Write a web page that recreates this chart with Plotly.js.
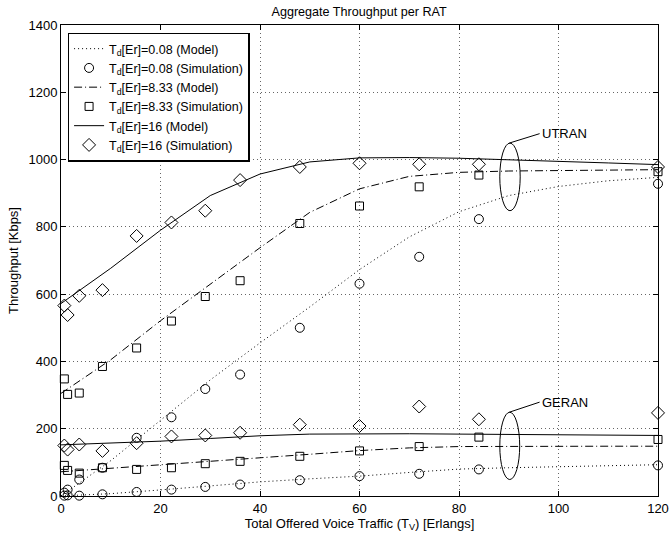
<!DOCTYPE html>
<html>
<head>
<meta charset="utf-8">
<script src="https://cdn.plot.ly/plotly-3.0.1.min.js"></script>
<style>html,body{margin:0;padding:0;background:#fff;}#chart{width:670px;height:538px;}</style>
</head>
<body>
<div id="chart"></div>
<script>
// Offered voice traffic (Erlangs) for simulation points and model curves
const simX = [0.67, 1.33, 3.67, 8.33, 15.2, 22.2, 29, 36, 48, 60, 72, 84, 120];
const modelX = [0, 10, 20, 30, 40, 50, 60, 70, 80, 90, 100, 110, 120];

// UTRAN throughput [Kbps]
const utranModel008 = [0, 105, 225, 345, 455, 562, 673, 770, 845, 893, 920, 937, 947];
const utranModel833 = [305, 405, 521, 630, 738, 843, 913, 950, 962, 966, 968, 969, 970];
const utranModel16  = [572, 677, 790, 893, 957, 993, 1005, 1006, 1004, 1000, 995, 990, 985];
const utranSim008 = [10, 19, 49, 84, 173, 234, 318, 361, 500, 631, 711, 823, 928];
const utranSim833 = [348, 302, 306, 385, 440, 520, 593, 640, 810, 862, 919, 954, 964];
const utranSim16  = [566, 538, 595, 612, 773, 813, 848, 939, 978, 989, 986, 986, 978];

// GERAN throughput [Kbps]
const geranModel008 = [0, 7, 18, 31, 42, 51, 59, 70, 80, 84, 87, 90, 93];
const geranModel833 = [72, 82, 92, 103, 112, 124, 135, 143, 147, 148, 148, 148, 148];
const geranModel16  = [152, 157, 163, 171, 179, 184, 185, 185, 184, 183, 182, 181, 180];
const geranSim008 = [1, 2, 1, 5, 12, 19, 27, 34, 47, 59, 66, 79, 91];
const geranSim833 = [91, 76, 68, 84, 79, 84, 96, 103, 118, 134, 147, 175, 168];
const geranSim16  = [150, 138, 153, 134, 157, 177, 180, 188, 212, 208, 266, 228, 247];

const legendNames = [
  'T<sub>d</sub>[Er]=0.08 (Model)',
  'T<sub>d</sub>[Er]=0.08 (Simulation)',
  'T<sub>d</sub>[Er]=8.33 (Model)',
  'T<sub>d</sub>[Er]=8.33 (Simulation)',
  'T<sub>d</sub>[Er]=16 (Model)',
  'T<sub>d</sub>[Er]=16 (Simulation)'
];
const xTicks = [0, 20, 40, 60, 80, 100, 120];
const yTicks = [0, 200, 400, 600, 800, 1000, 1200, 1400];

const DOT = '1px,3px';
const DASHDOT = '8px,3px,1px,3px';

function modelTrace(y, dash, name, group, show) {
  return {x: modelX, y: y, type: 'scatter', mode: 'lines', name: name, legendgroup: group,
    showlegend: show, line: {color: '#000', width: 1, dash: dash}, cliponaxis: false};
}
function simTrace(y, symbol, size, name, group, show) {
  return {x: simX, y: y, type: 'scatter', mode: 'markers', name: name, legendgroup: group,
    showlegend: show, cliponaxis: false,
    marker: {symbol: symbol, size: size, color: '#000', line: {color: '#000', width: 1}}};
}

const data = [
  modelTrace(utranModel008, DOT, legendNames[0], 'g0', true),
  simTrace(utranSim008, 'circle-open', 9, legendNames[1], 'g1', true),
  modelTrace(utranModel833, DASHDOT, legendNames[2], 'g2', true),
  simTrace(utranSim833, 'square-open', 8, legendNames[3], 'g3', true),
  modelTrace(utranModel16, 'solid', legendNames[4], 'g4', true),
  simTrace(utranSim16, 'diamond-open', 10, legendNames[5], 'g5', true),
  modelTrace(geranModel008, DOT, legendNames[0], 'g0', false),
  simTrace(geranSim008, 'circle-open', 9, legendNames[1], 'g1', false),
  modelTrace(geranModel833, DASHDOT, legendNames[2], 'g2', false),
  simTrace(geranSim833, 'square-open', 8, legendNames[3], 'g3', false),
  modelTrace(geranModel16, 'solid', legendNames[4], 'g4', false),
  simTrace(geranSim16, 'diamond-open', 10, legendNames[5], 'g5', false)
];

const axisCommon = {
  showline: true, linecolor: '#000', linewidth: 1, mirror: 'ticks',
  ticks: 'inside', ticklen: 5, tickcolor: '#000',
  showgrid: true, gridcolor: '#666', griddash: '1px,3px', gridwidth: 1,
  zeroline: false, tickfont: {family: 'Liberation Sans, Arial, sans-serif', size: 13, color: '#000'}
};

const layout = {
  width: 670, height: 538,
  margin: {l: 61, r: 12, t: 25, b: 42},
  paper_bgcolor: '#fff', plot_bgcolor: '#fff',
  font: {family: 'Liberation Sans, Arial, sans-serif', size: 13, color: '#000'},
  title: {text: 'Aggregate Throughput per RAT', x: 0.536, xanchor: 'center', y: 0.979, yanchor: 'middle',
    font: {size: 12.6, color: '#000'}},
  xaxis: Object.assign({}, axisCommon, {range: [0, 120], tickvals: xTicks, ticktext: xTicks.map(String),
    title: {text: 'Total Offered Voice Traffic (T<sub>V</sub>) [Erlangs]', standoff: 2, font: {size: 13}}}),
  yaxis: Object.assign({}, axisCommon, {range: [0, 1400], tickvals: yTicks, ticktext: yTicks.map(String),
    title: {text: 'Throughput [Kbps]', standoff: 6, font: {size: 13}}}),
  legend: {x: 0.011, y: 0.984, xanchor: 'left', yanchor: 'top', bgcolor: '#fff',
    bordercolor: '#000', borderwidth: 1.5, font: {size: 12.5}, tracegroupgap: 0, itemwidth: 30},
  shapes: [
    {type: 'circle', xref: 'x', yref: 'y', x0: 88.2, x1: 92.3, y0: 848, y1: 1049, line: {color: '#000', width: 1}},
    {type: 'line', xref: 'x', yref: 'y', x0: 90.1, y0: 1049, x1: 96.2, y1: 1077, line: {color: '#000', width: 1}},
    {type: 'circle', xref: 'x', yref: 'y', x0: 88.2, x1: 92.2, y0: 49, y1: 249, line: {color: '#000', width: 1}},
    {type: 'line', xref: 'x', yref: 'y', x0: 90.1, y0: 249, x1: 96.2, y1: 279, line: {color: '#000', width: 1}}
  ],
  annotations: [
    {text: 'UTRAN', x: 96.2, y: 1077, xref: 'x', yref: 'y', xanchor: 'left', yanchor: 'middle', showarrow: false, font: {size: 13}},
    {text: 'GERAN', x: 96.2, y: 279, xref: 'x', yref: 'y', xanchor: 'left', yanchor: 'middle', showarrow: false, font: {size: 13}}
  ]
};

Plotly.newPlot('chart', data, layout, {displayModeBar: false, staticPlot: true});
</script>
</body>
</html>
